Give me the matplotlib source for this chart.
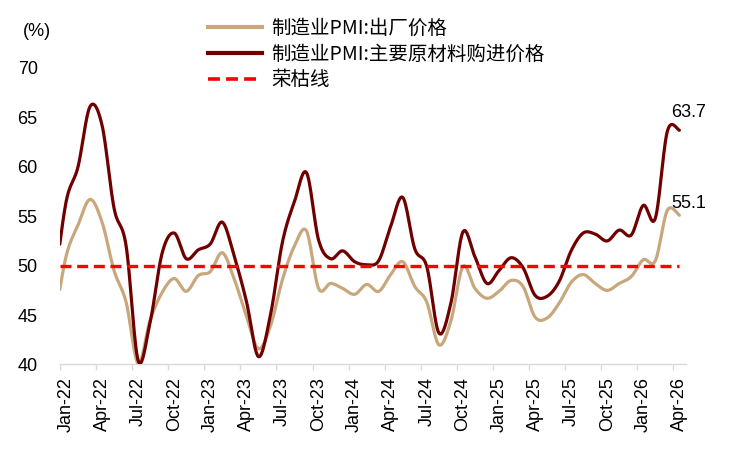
import numpy as np
import matplotlib
matplotlib.use("Agg")
import matplotlib.pyplot as plt
from matplotlib.lines import Line2D

# ---- data (Dec-21 .. Apr-26, monthly) ----
months = (["Dec-21"] +
          [f"{m}-{y}" for y in ["22", "23", "24", "25"]
           for m in ["Jan", "Feb", "Mar", "Apr", "May", "Jun", "Jul", "Aug", "Sep", "Oct", "Nov", "Dec"]] +
          ["Jan-26", "Feb-26", "Mar-26", "Apr-26"])

output_price = [44.0,
                50.9, 54.1, 56.7, 54.4, 49.5, 46.3, 40.1, 44.5, 47.3, 48.7, 47.4, 49.0,
                49.4, 51.3, 48.6, 44.9, 41.6, 43.9, 48.6, 52.0, 53.5, 47.7, 48.2, 47.7,
                47.1, 48.1, 47.4, 49.1, 50.4, 47.9, 46.3, 42.0, 44.4, 49.9, 47.7, 46.7,
                47.4, 48.5, 47.9, 44.8, 44.7, 46.2, 48.3, 49.1, 48.2, 47.5, 48.2, 48.9,
                50.6, 50.5, 55.6, 55.1]

input_price = [47.5,
               56.4, 60.0, 66.1, 64.2, 55.8, 52.0, 40.4, 44.3, 51.3, 53.3, 50.7, 51.6,
               52.2, 54.4, 50.9, 46.4, 40.8, 45.0, 52.4, 56.5, 59.4, 52.6, 50.7, 51.5,
               50.4, 50.1, 50.5, 54.0, 56.9, 51.7, 49.9, 43.2, 46.2, 53.4, 50.9, 48.2,
               49.5, 50.8, 49.8, 47.0, 46.9, 48.4, 51.5, 53.3, 53.2, 52.5, 53.6, 53.1,
               56.1, 54.8, 63.6, 63.7]

boom_bust = 50
series_names = ["制造业PMI:出厂价格", "制造业PMI:主要原材料购进价格", "荣枯线"]
tick_labels = ["Jan-22", "Apr-22", "Jul-22", "Oct-22", "Jan-23", "Apr-23", "Jul-23", "Oct-23",
               "Jan-24", "Apr-24", "Jul-24", "Oct-24", "Jan-25", "Apr-25", "Jul-25", "Oct-25",
               "Jan-26", "Apr-26"]
yticks = [40, 45, 50, 55, 60, 65, 70]

# ---- helpers ----
def smooth(x, y, n=24):
    """Catmull-Rom (Excel-style smoothed line) through the data points."""
    P = np.column_stack([x, y]).astype(float)
    P = np.vstack([P[0], P, P[-1]])
    t = np.linspace(0, 1, n, endpoint=False)[:, None]
    segs = []
    for k in range(1, len(P) - 2):
        p0, p1, p2, p3 = P[k - 1], P[k], P[k + 1], P[k + 2]
        seg = 0.5 * ((2 * p1) + (-p0 + p2) * t + (2 * p0 - 5 * p1 + 4 * p2 - p3) * t ** 2
                     + (-p0 + 3 * p1 - 3 * p2 + p3) * t ** 3)
        segs.append(seg)
    segs.append(P[-2][None, :])
    S = np.vstack(segs)
    return S[:, 0], S[:, 1]

x = np.arange(len(months)) - 1  # Jan-22 -> 0
label_pos = [months.index(l) - 1 for l in tick_labels]

# ---- figure ----
plt.rcParams['font.family'] = ['Liberation Sans', 'DejaVu Sans']
fig = plt.figure(figsize=(7.34, 4.49), dpi=100)
ax = fig.add_axes([0.0817, 0.1882, 0.9346 - 0.0817, 0.8486 - 0.1882])

c_out = "#C9A77C"
c_in = "#700000"
c_line = "#FF0000"

sx, sy = smooth(x, output_price)
ax.plot(sx, sy, color=c_out, lw=2.3, solid_capstyle='round', zorder=2)
sx, sy = smooth(x, input_price)
ax.plot(sx, sy, color=c_in, lw=2.3, solid_capstyle='round', zorder=3)
ax.plot([label_pos[0] - 0.5, x[-1]], [boom_bust, boom_bust], color=c_line, lw=2.4,
        dashes=(3.3, 1.7), zorder=4)

ax.set_xlim(-0.5, 51.55)
ax.set_ylim(40, 70)
ax.set_yticks(yticks)
ax.tick_params(axis='y', length=0, pad=16, labelsize=13)

# boundary tick marks (major) and centred labels (minor)
ax.set_xticks([p - 0.5 for p in label_pos])
ax.set_xticklabels([])
ax.set_xticks(label_pos, minor=True)
ax.set_xticklabels(tick_labels, minor=True, rotation=90, fontsize=13)
ax.tick_params(axis='x', which='major', length=4, width=1, color='#D9D9D9')
ax.tick_params(axis='x', which='minor', length=0, pad=9)

for s in ['left', 'right', 'top']:
    ax.spines[s].set_visible(False)
ax.spines['bottom'].set_color('#D9D9D9')
ax.spines['bottom'].set_linewidth(1)

# end labels
ax.annotate(f"{input_price[-1]}", xy=(x[-1], input_price[-1]), xytext=(6.5, 9.5),
            textcoords='offset points', ha='center', va='baseline', fontsize=13)
ax.annotate(f"{output_price[-1]}", xy=(x[-1], output_price[-1]), xytext=(6.5, 5.5),
            textcoords='offset points', ha='center', va='baseline', fontsize=13)

fig.text(37 / 734, 1 - 32 / 449, "(%)", ha='center', va='center', fontsize=13)

handles = [Line2D([], [], color=c_out, lw=3),
           Line2D([], [], color=c_in, lw=3),
           Line2D([], [], color=c_line, lw=2.6, dashes=(3.3, 1.7))]
leg = fig.legend(handles, series_names, loc='upper left',
                 bbox_to_anchor=(208 / 734, 1 - 18 / 449), frameon=False,
                 prop={'family': ['Noto Sans CJK SC', 'DejaVu Sans'], 'size': 14},
                 handlelength=2.8, handletextpad=0.45, labelspacing=0.24,
                 borderpad=0, borderaxespad=0)

fig.savefig("out.png", dpi=100)
